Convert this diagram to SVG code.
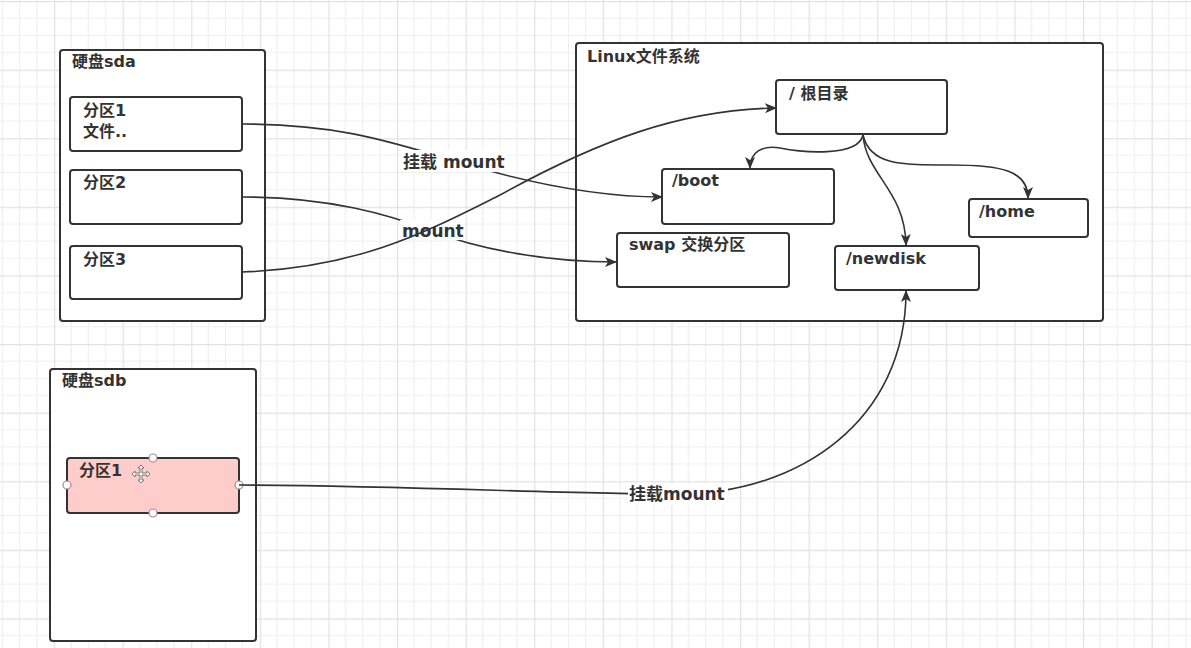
<svg xmlns="http://www.w3.org/2000/svg" width="1191" height="648" viewBox="0 0 1191 648">
<style>
.box{fill:#ffffff;stroke:#333333;stroke-width:2}
.t{font-family:"DejaVu Sans","Noto Sans CJK SC",sans-serif;font-weight:bold;fill:#333333}
.title{font-size:16px}
.node{font-size:16px}
.lbl{font-size:17px}
.edge{fill:none;stroke:#333333;stroke-width:1.6}
.lblbg{fill:#ffffff}
.handle{fill:#ffffff;stroke:#a88890;stroke-width:1.2}
</style>
<defs>
<pattern id="grid" patternUnits="userSpaceOnUse" x="54" y="1" width="68.6" height="68.6">
<path d="M17.15,0V68.6M34.3,0V68.6M51.45,0V68.6M0,17.15H68.6M0,34.3H68.6M0,51.45H68.6" stroke="#efefef" stroke-width="1.2" fill="none"/>
<path d="M0.5,0V68.6M0,0.5H68.6" stroke="#e2e2e2" stroke-width="1.4" fill="none"/>
</pattern>
<marker id="arr" markerUnits="userSpaceOnUse" markerWidth="12" markerHeight="10" refX="11" refY="5" orient="auto">
<path d="M0,0 L12,5 L0,10 L3,5 Z" fill="#333333"/>
</marker>
</defs>
<rect width="1191" height="648" fill="#ffffff"/>
<rect width="1191" height="648" fill="url(#grid)"/>

<g id="disk-sda">
<rect class="box" x="60" y="50" width="205" height="271" rx="3"/>
<text class="t title" x="72" y="67">硬盘sda</text>
</g>
<g id="sda-part1">
<rect class="box" x="70" y="97" width="172" height="54" rx="3"/>
<text class="t node" x="83" y="116">分区1</text>
<text class="t node" x="83" y="137">文件..</text>
</g>
<g id="sda-part2">
<rect class="box" x="70" y="170" width="172" height="54" rx="3"/>
<text class="t node" x="83" y="188">分区2</text>
</g>
<g id="sda-part3">
<rect class="box" x="70" y="246" width="172" height="53" rx="3"/>
<text class="t node" x="83" y="265">分区3</text>
</g>

<g id="linux-fs">
<rect class="box" x="576" y="43" width="527" height="278" rx="3"/>
<text class="t title" x="587" y="62">Linux文件系统</text>
</g>
<g id="root">
<rect class="box" x="776" y="80" width="171" height="54" rx="3"/>
<text class="t node" x="789" y="99">/ 根目录</text>
</g>
<g id="boot">
<rect class="box" x="662" y="169" width="172" height="55" rx="3"/>
<text class="t node" x="672" y="186">/boot</text>
</g>
<g id="swap">
<rect class="box" x="617" y="233" width="172" height="54" rx="3"/>
<text class="t node" x="629" y="250">swap 交换分区</text>
</g>
<g id="newdisk">
<rect class="box" x="835" y="246" width="144" height="44" rx="3"/>
<text class="t node" x="846" y="264">/newdisk</text>
</g>
<g id="home">
<rect class="box" x="969" y="199" width="119" height="38" rx="3"/>
<text class="t node" x="979" y="217">/home</text>
</g>

<g id="disk-sdb">
<rect class="box" x="50" y="369" width="206" height="272" rx="3"/>
<text class="t title" x="62" y="386">硬盘sdb</text>
</g>
<g id="sdb-part1">
<rect x="67" y="458" width="172" height="55" rx="3" fill="#ffcccc" stroke="#333333" stroke-width="2"/>
<text class="t node" x="79" y="476">分区1</text>
<circle class="handle" cx="153" cy="458" r="4"/>
<circle class="handle" cx="153" cy="513" r="4"/>
<circle class="handle" cx="67" cy="485" r="4"/>
<circle class="handle" cx="239" cy="485" r="4"/>
<path transform="translate(141,474)" d="M0,-9 L3,-6 L1,-6 L1,-1 L6,-1 L6,-3 L9,0 L6,3 L6,1 L1,1 L1,6 L3,6 L0,9 L-3,6 L-1,6 L-1,1 L-6,1 L-6,3 L-9,0 L-6,-3 L-6,-1 L-1,-1 L-1,-6 L-3,-6 Z" fill="#ffffff" stroke="#777777" stroke-width="1"/>
</g>

<g id="connectors">
<path class="edge" d="M242,124 C330,124 380,138 455,161 C530,184 600,197 662,197" marker-end="url(#arr)"/>
<rect class="lblbg" x="401" y="150" width="106" height="22"/>
<text class="t lbl" x="403" y="168">挂载 mount</text>

<path class="edge" d="M242,197 C330,197 390,215 432,231 C480,250 550,262 616,262" marker-end="url(#arr)"/>
<rect class="lblbg" x="400" y="220" width="64" height="20"/>
<text class="t lbl" x="402" y="237">mount</text>

<path class="edge" d="M242,272 C360,268 430,230 500,195 C600,140 680,110 776,108" marker-end="url(#arr)"/>

<path class="edge" d="M863,135 C858,158 800,152 780,148 C762,145 750,152 750,168" marker-end="url(#arr)"/>
<path class="edge" d="M863,135 C866,175 905,190 906,245" marker-end="url(#arr)"/>
<path class="edge" d="M863,135 C870,165 900,165 950,165 C1000,165 1028,170 1028,198" marker-end="url(#arr)"/>

<path class="edge" d="M239,485 C420,486 560,494 677,494 C800,494 906,420 906,291" marker-end="url(#arr)"/>
<rect class="lblbg" x="628" y="484" width="100" height="21"/>
<text class="t lbl" x="629" y="500">挂载mount</text>
</g>
</svg>
